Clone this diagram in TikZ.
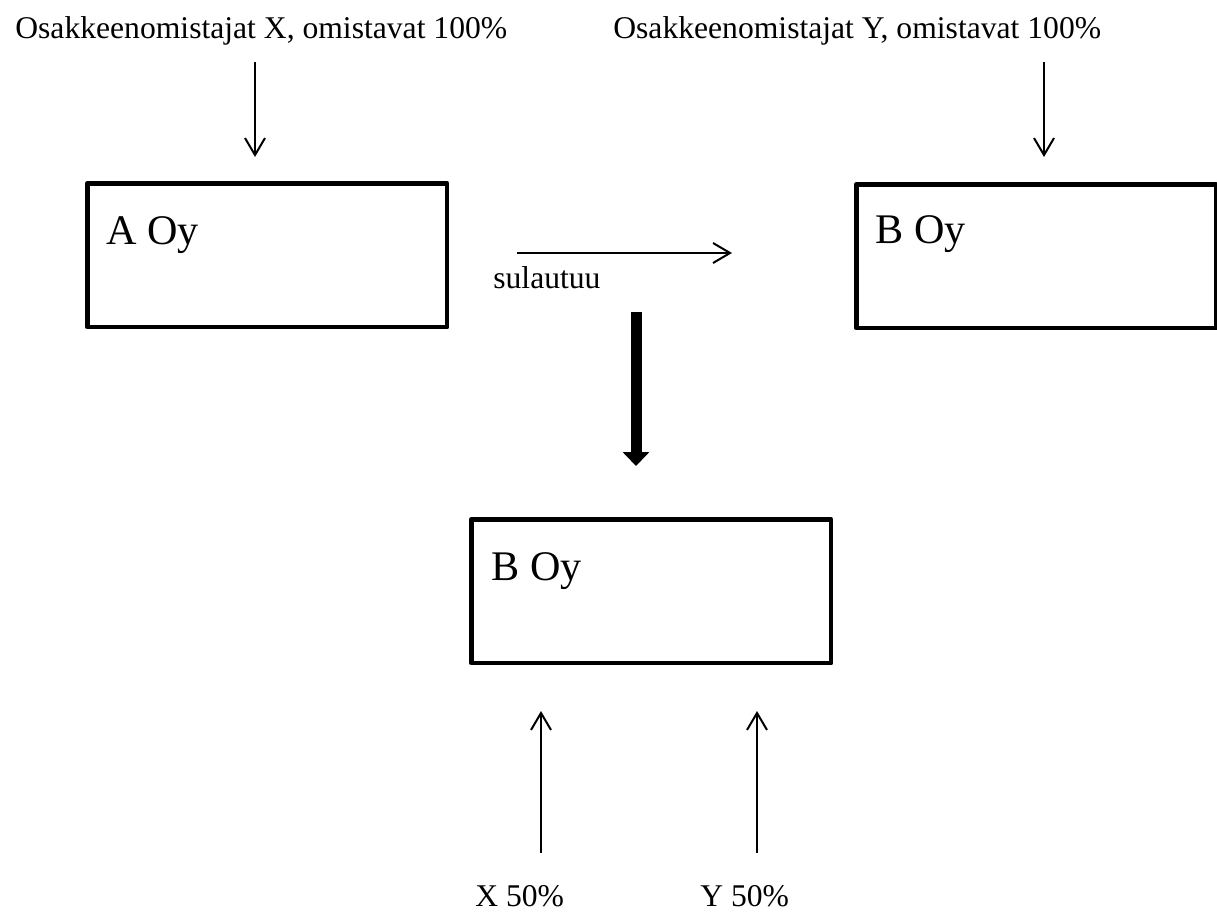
\documentclass[tikz,border=0pt]{standalone}
\usepackage{fontspec}
\setmainfont{Liberation Serif}
\usetikzlibrary{arrows.meta,positioning}

\begin{document}
\begin{tikzpicture}[x=0.02cm,y=-0.02cm,
        oybox/.style={draw, line width=0.09cm, line join=round, minimum width=7.2cm, minimum height=2.88cm, anchor=north west, inner sep=0pt},
        oylabel/.style={anchor=base west, inner sep=0pt, font=\fontsize{24}{28}\selectfont},
        smalltext/.style={anchor=base west, inner sep=0pt, font=\fontsize{18}{21}\selectfont},
        thinarrow/.style={line width=0.04cm, -{Straight Barb[length=0.34cm,width=0.4cm]}},
        thickarrow/.style={line width=0.22cm, -{Triangle[width=0.52cm,length=0.28cm]}}]
        \useasboundingbox (0,0) rectangle (1217,913);
        % owners
        \node[smalltext] (ownX) at (15,38) {Osakkeenomistajat X, omistavat 100\%};
        \node[smalltext] (ownY) at (613,38) {Osakkeenomistajat Y, omistavat 100\%};
        % companies
        \node[oybox] (A) at (85,181) {};
        \node[oybox] (B) at (854,182) {};
        \node[oybox] (Bnew) at (469,517) {};
        \node[oylabel] (Alabel) at (106,244) {A Oy};
        \node[oylabel] (Blabel) at (875,243) {B Oy};
        \node[oylabel] (Bnewlabel) at (491,580) {B Oy};
        \node[smalltext] (merge) at (493,288) {sulautuu};
        % new shares
        \node[smalltext] (shareX) at (475,906) {X 50\%};
        \node[smalltext] (shareY) at (700,906) {Y 50\%};
        % arrow ends
        \coordinate (ownXend) at (255,62);
        \coordinate (Atop) at (255,157);
        \coordinate (ownYend) at (1044,62);
        \coordinate (Btop) at (1044,157);
        \coordinate (mergeA) at (517,253);
        \coordinate (mergeB) at (732,253);
        \coordinate (down1) at (636,312);
        \coordinate (down2) at (636,466);
        \coordinate (shareXend) at (541,853);
        \coordinate (BnewX) at (541,711);
        \coordinate (shareYend) at (757,853);
        \coordinate (BnewY) at (757,711);
        \draw[thinarrow] (ownXend) -- (Atop);
        \draw[thinarrow] (ownYend) -- (Btop);
        \draw[thinarrow] (mergeA) -- (mergeB);
        \draw[thickarrow] (down1) -- (down2);
        \draw[thinarrow] (shareXend) -- (BnewX);
        \draw[thinarrow] (shareYend) -- (BnewY);
    \end{tikzpicture}
\end{document}
